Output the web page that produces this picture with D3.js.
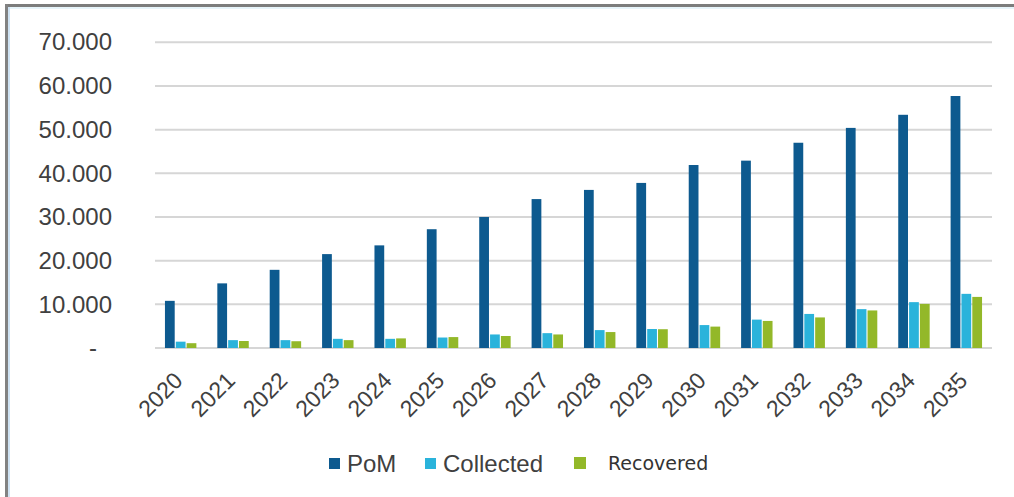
<!DOCTYPE html>
<html>
<head>
<meta charset="utf-8">
<script src="https://cdn.jsdelivr.net/npm/d3@7"></script>
<style>
  html, body { margin: 0; padding: 0; background: #ffffff; }
  svg { display: block; }
</style>
</head>
<body>
<svg id="chart" width="1014" height="497"></svg>
<script>
// Years on the category axis
const years = ["2020","2021","2022","2023","2024","2025","2026","2027",
               "2028","2029","2030","2031","2032","2033","2034","2035"];

// Series values (tonnes)
const pom       = [10800, 14800, 17900, 21500, 23500, 27200, 30000, 34100,
                   36200, 37800, 41900, 42900, 47000, 50400, 53400, 57700];
const collected = [1450, 1800, 1800, 2100, 2100, 2400, 3100, 3400,
                   4100, 4350, 5250, 6500, 7800, 8900, 10500, 12400];
const recovered = [1100, 1600, 1550, 1800, 2200, 2500, 2750, 3100,
                   3650, 4300, 4900, 6200, 7000, 8600, 10100, 11700];

// Series names and y-axis ticks
const seriesNames = ["PoM", "Collected", "Recovered"];
const yTicks = [0, 10000, 20000, 30000, 40000, 50000, 60000, 70000];

const colors = { "PoM": "#0d5a8f", "Collected": "#2ab3db", "Recovered": "#93b829" };
const sans = "'Liberation Sans', Arial, sans-serif";

const rows = years.map((y, i) => ({
  year: y,
  values: [
    { key: "PoM", value: pom[i] },
    { key: "Collected", value: collected[i] },
    { key: "Recovered", value: recovered[i] }
  ]
}));

const svg = d3.select("#chart");

// Frame around the chart area
svg.append("rect").attr("x", 0).attr("y", 0).attr("width", 1014).attr("height", 497).attr("fill", "#ffffff");
svg.append("rect").attr("x", 8).attr("y", 7).attr("width", 1006).attr("height", 2).attr("fill", "#e6f4fa");
svg.append("rect").attr("x", 8).attr("y", 7).attr("width", 2).attr("height", 490).attr("fill", "#cfe3f4");
svg.append("rect").attr("x", 5).attr("y", 4).attr("width", 1009).attr("height", 3).attr("fill", "#7c7c7c");
svg.append("rect").attr("x", 5).attr("y", 4).attr("width", 3).attr("height", 493).attr("fill", "#828282");

const plot = { left: 155, right: 992, top: 42.3, bottom: 348 };

const x0 = d3.scaleBand()
  .domain(years)
  .range([plot.left, plot.right])
  .paddingInner(0.4)
  .paddingOuter(0.19);

const x1 = d3.scaleBand()
  .domain(seriesNames)
  .range([0, x0.bandwidth()])
  .paddingInner(0.1);

const y = d3.scaleLinear()
  .domain([0, 70000])
  .range([plot.bottom, plot.top]);

// Horizontal gridlines
svg.append("g")
  .selectAll("line")
  .data(yTicks)
  .join("line")
  .attr("x1", plot.left)
  .attr("x2", plot.right)
  .attr("y1", d => y(d))
  .attr("y2", d => y(d))
  .attr("stroke", "#d6d6d6")
  .attr("stroke-width", 2);

// Y axis labels
const yAxis = svg.append("g")
  .attr("transform", `translate(${plot.left},0)`)
  .call(d3.axisLeft(y)
    .tickValues(yTicks)
    .tickSize(0)
    .tickPadding(43)
    .tickFormat(d => d === 0 ? "-" : d3.format(",")(d).replace(/,/g, ".")));
yAxis.select(".domain").remove();
yAxis.selectAll("text")
  .style("font-family", sans)
  .style("font-size", "24px")
  .attr("fill", "#404040")
  .attr("dx", d => d === 0 ? -15 : 0);

// X axis labels, rotated
const xCenter = d3.scaleBand().domain(years).range([plot.left, plot.right]);
const xAxis = svg.append("g")
  .attr("transform", `translate(0,${plot.bottom})`)
  .call(d3.axisBottom(xCenter).tickSize(0));
xAxis.select(".domain").remove();
xAxis.selectAll("text")
  .attr("y", 0)
  .attr("dy", 0)
  .style("font-family", sans)
  .style("font-size", "23px")
  .attr("fill", "#404040")
  .attr("text-anchor", "end")
  .attr("transform", "translate(3,34) rotate(-45)");

// Bars
const groups = svg.append("g")
  .selectAll("g")
  .data(rows)
  .join("g")
  .attr("transform", d => `translate(${x0(d.year)},0)`);

groups.selectAll("rect")
  .data(d => d.values)
  .join("rect")
  .attr("x", d => x1(d.key))
  .attr("width", x1.bandwidth())
  .attr("y", d => y(d.value))
  .attr("height", d => y(0) - y(d.value))
  .attr("fill", d => colors[d.key]);

// Legend
const legendSquares = [329, 425, 574];
const legendTexts = [347, 443, 608];
const legend = svg.append("g");
seriesNames.forEach((name, i) => {
  const isRec = name === "Recovered";
  legend.append("rect")
    .attr("x", legendSquares[i])
    .attr("y", isRec ? 457 : 458)
    .attr("width", isRec ? 12 : 11)
    .attr("height", isRec ? 12 : 11)
    .attr("fill", colors[name]);
  legend.append("text")
    .attr("x", legendTexts[i])
    .attr("y", isRec ? 470 : 472)
    .attr("fill", isRec ? "#333333" : "#404040")
    .style("font-family", isRec ? "'DejaVu Sans', Verdana, sans-serif" : sans)
    .style("font-size", isRec ? "19px" : "24px")
    .text(name);
});
</script>
</body>
</html>
